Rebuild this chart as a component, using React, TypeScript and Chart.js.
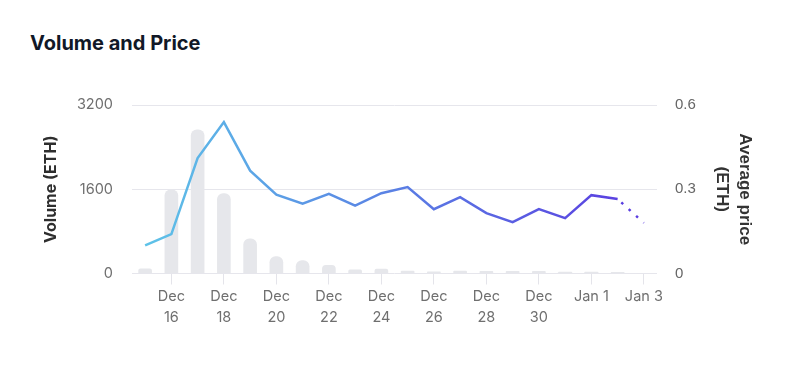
import React, { useEffect, useRef } from "react";
import { Chart, registerables } from "chart.js";

Chart.register(...registerables);

const categories = [
  "Dec 15", "Dec 16", "Dec 17", "Dec 18", "Dec 19", "Dec 20", "Dec 21", "Dec 22",
  "Dec 23", "Dec 24", "Dec 25", "Dec 26", "Dec 27", "Dec 28", "Dec 29", "Dec 30",
  "Dec 31", "Jan 1", "Jan 2", "Jan 3",
];

const tickLabels: (string | string[] | null)[] = [
  null, ["Dec", "16"], null, ["Dec", "18"], null, ["Dec", "20"], null, ["Dec", "22"],
  null, ["Dec", "24"], null, ["Dec", "26"], null, ["Dec", "28"], null, ["Dec", "30"],
  null, "Jan 1", null, "Jan 3",
];

const volumeValues = [
  90, 1590, 2730, 1520, 660, 320, 245, 155, 70, 85,
  45, 30, 45, 40, 40, 40, 25, 25, 20, 0,
];

const priceValues = [
  0.1, 0.14, 0.411, 0.539, 0.366, 0.281, 0.249, 0.284, 0.242, 0.286,
  0.308, 0.229, 0.272, 0.215, 0.183, 0.229, 0.197, 0.279, 0.265, 0.18,
];

const volumeTicks = [0, 1600, 3200];
const priceTicks = [0, 0.3, 0.6];

const FONT = "Inter, 'Noto Sans', sans-serif";
const ARIAL = "'Liberation Sans', Arial, Helvetica, sans-serif";

if (typeof document !== "undefined") {
  document.body.style.margin = "0";
}

export default function App() {
  const ref = useRef<HTMLCanvasElement | null>(null);

  useEffect(() => {
    if (!ref.current) return;
    const chart = new Chart(ref.current, {
      data: {
        labels: categories,
        datasets: [
          {
            type: "line",
            label: "Average price",
            data: priceValues,
            yAxisID: "yPrice",
            borderWidth: 2.5,
            pointRadius: 0,
            pointHoverRadius: 0,
            tension: 0,
            order: 0,
            borderColor: (ctx: any) => {
              const { chart } = ctx;
              const area = chart.chartArea;
              if (!area) return "#5b7fe3";
              const g = chart.ctx.createLinearGradient(area.left, 0, area.right, 0);
              g.addColorStop(0, "#5ec6e8");
              g.addColorStop(0.5, "#5a80e4");
              g.addColorStop(1, "#5a36e0");
              return g;
            },
            segment: {
              borderDash: (ctx: any) => (ctx.p1DataIndex === priceValues.length - 1 ? [2.5, 7.5] : undefined),
              borderDashOffset: (ctx: any) => (ctx.p1DataIndex === priceValues.length - 1 ? -5 : 0),
            },
          } as any,
          {
            type: "bar",
            label: "Volume",
            data: volumeValues,
            yAxisID: "yVol",
            backgroundColor: "#e6e7eb",
            borderRadius: 6,
            barThickness: 13,
            order: 1,
          } as any,
        ],
      },
      options: {
        animation: false,
        responsive: false,
        maintainAspectRatio: false,
        layout: { padding: { top: 105, bottom: 0, left: 0, right: 0 } },
        plugins: {
          legend: { display: false },
          tooltip: { enabled: false },
          title: { display: false },
        },
        scales: {
          x: {
            type: "category",
            offset: true,
            afterFit: (s: any) => {
              s.height = 92.5;
            },
            grid: {
              display: true,
              offset: false,
              drawOnChartArea: false,
              drawTicks: true,
              tickLength: 11,
              color: "#e4e4ea",
            },
            border: { display: false },
            ticks: {
              autoSkip: false,
              maxRotation: 0,
              padding: 2,
              color: "#6f6f6f",
              font: { family: FONT, size: 14.5, lineHeight: 1.45 },
              callback: (_v: any, i: number) => tickLabels[i] ?? null,
            },
          },
          yVol: {
            type: "linear",
            position: "left",
            min: 0,
            max: 3200,
            afterFit: (s: any) => {
              s.width = 132;
            },
            afterBuildTicks: (s: any) => {
              s.ticks = volumeTicks.map((v) => ({ value: v }));
            },
            grid: { color: "#e6e6ec", drawTicks: false },
            border: { display: false },
            ticks: {
              padding: 19,
              color: "#6f6f6f",
              font: { family: FONT, size: 14.5 },
              callback: (v: any) => String(Number(v)),
            },
            title: {
              display: true,
              text: "Volume (ETH)",
              color: "#2e2e2e",
              font: { family: FONT, size: 16, weight: "bold", lineHeight: 1.2 },
              padding: { top: 42, bottom: 0 },
            },
          },
          yPrice: {
            type: "linear",
            position: "right",
            min: 0,
            max: 0.6,
            afterFit: (s: any) => {
              s.width = 143;
            },
            afterBuildTicks: (s: any) => {
              s.ticks = priceTicks.map((v) => ({ value: v }));
            },
            grid: { display: false, drawTicks: false },
            border: { display: false },
            ticks: {
              padding: 18,
              color: "#666666",
              font: { family: ARIAL, size: 15 },
              callback: (v: any) => String(Number(v)),
            },
            title: {
              display: true,
              text: ["Average price", "(ETH)"],
              color: "#333333",
              font: { family: ARIAL, size: 17, weight: "bold", lineHeight: 1.4 },
              padding: { top: 43, bottom: 0 },
            },
          },
        },
      } as any,
    });
    return () => chart.destroy();
  }, []);

  return (
    <div style={{ position: "relative", width: 800, height: 366, background: "#fff" }}>
      <div
        style={{
          position: "absolute",
          left: 30,
          top: 31,
          fontFamily: FONT,
          fontWeight: 700,
          fontSize: 20,
          lineHeight: "24px",
          color: "#111827",
          whiteSpace: "nowrap",
        }}
      >
        Volume and Price
      </div>
      <canvas
        ref={ref}
        width={800}
        height={366}
        style={{ position: "absolute", left: 0, top: 0, width: 800, height: 366 }}
      />
    </div>
  );
}
